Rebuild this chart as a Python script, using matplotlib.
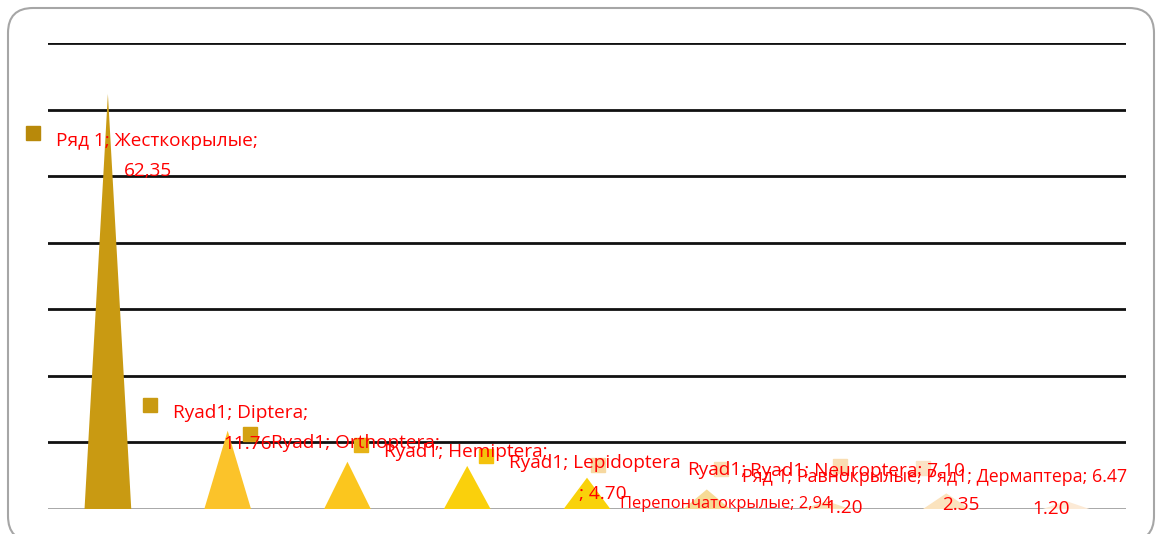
import matplotlib.pyplot as plt
import matplotlib.transforms as mtransforms
from matplotlib.patches import FancyBboxPatch

### DATA ###

categories = ["Жесткокрылые", "Diptera", "Orthoptera", "Hemiptera", "Lepidoptera",
              "Перепончатокрылые", "Neuroptera", "Равнокрылые", "Дермаптера"]
values = [62.35, 11.76, 7.10, 6.47, 4.70, 2.94, 1.20, 2.35, 1.20]

tri_colors = ["#C99A12", "#FBC32A", "#FBC61E", "#FAD00C", "#F9D20A",
              "#F6DB96", "#FAE2B8", "#FBE3BE", "#FCEAD6"]
key_colors = ["#B8890A", "#C99A12", "#D4A112", "#E6B316", "#F4C20C",
              "#F6D8A0", "#F9DDB2", "#F9DDB2", "#FBE2C4"]

# data label texts: (text, category, dx px, dy px, size)
label_texts = [
    ("Ряд 1; Жесткокрылые;", 0, -52, -47, 13.7),
    ("62,35", 0, 16, -77, 13.7),
    ("Ryad1; Diptera;", 1, -55, 18, 13.7),
    ("11.76", 1, -4, -13, 13.7),
    ("Ryad1; Orthoptera;", 2, -76, 19, 13.7),
    ("Ryad1; Hemiptera;", 3, -83, 14, 13.7),
    ("Ryad1; Lepidoptera", 4, -78, 15, 13.7),
    ("; 4.70", 4, -8, -16, 13.7),
    ("Перепончатокрылые; 2,94", 5, -87, -15, 11.9),
    ("Ryad1;", 5, -20, 19, 13.7),
    ("Ryad1; Neuroptera; 7.10", 6, -77, 30, 13.7),
    ("1.20", 6, -1, -7, 13.7),
    ("Ряд 1; Равнокрылые; Ряд1; Дермаптера; 6.47", 7, -204, 16, 12.75),
    ("2.35", 7, -4, -12, 13.7),
    ("1.20", 8, -34, -8, 13.7),
]
# legend key squares next to labels: (dx px, dy px)
key_offsets = [(-75, -39), (-78, 26), (-97, 28), (-106, 21), (-101, 22),
               (-109, 24), (-106, 32), (-106, 27), (-143, 33)]

### FIGURE ###

plt.rcParams["font.family"] = ["Open Sans", "DejaVu Sans"]

fig = plt.figure(figsize=(11.56, 5.34), dpi=100)

# rounded frame round the chart (pixel units)
frame = FancyBboxPatch((8, -7), 1146, 533,
                       boxstyle="round,pad=0,rounding_size=25",
                       transform=mtransforms.IdentityTransform(), fill=False,
                       edgecolor="#A6A6A6", linewidth=1.5)
fig.patches.append(frame)

ax = fig.add_axes([48 / 1156, 25 / 534, 1078 / 1156, 466 / 534])
ax.set_xlim(-0.5, len(categories) - 0.5)
ax.set_ylim(0, 70)

for g in range(10, 80, 10):
    ax.axhline(g, color="#111111", linewidth=2, zorder=1)
ax.axhline(0, color="#A0A0A0", linewidth=2, zorder=1)

half = 0.195
for i, v in enumerate(values):
    ax.fill([i - half, i, i + half], [0, v, 0], color=tri_colors[i], zorder=2, linewidth=0)

for i, (dx, dy) in enumerate(key_offsets):
    tr = mtransforms.offset_copy(ax.transData, fig=fig, x=dx, y=dy, units="dots")
    ax.plot(i, values[i], marker="s", markersize=10.5, color=key_colors[i],
            transform=tr, clip_on=False, zorder=3, linestyle="none")

for text, i, dx, dy, size in label_texts:
    ax.annotate(text, xy=(i, values[i]), xytext=(dx, dy), textcoords="offset pixels",
                ha="left", va="center", fontsize=size, color="#FF0000",
                annotation_clip=False, zorder=4)

ax.axis("off")

fig.savefig("out.png", dpi=100)
